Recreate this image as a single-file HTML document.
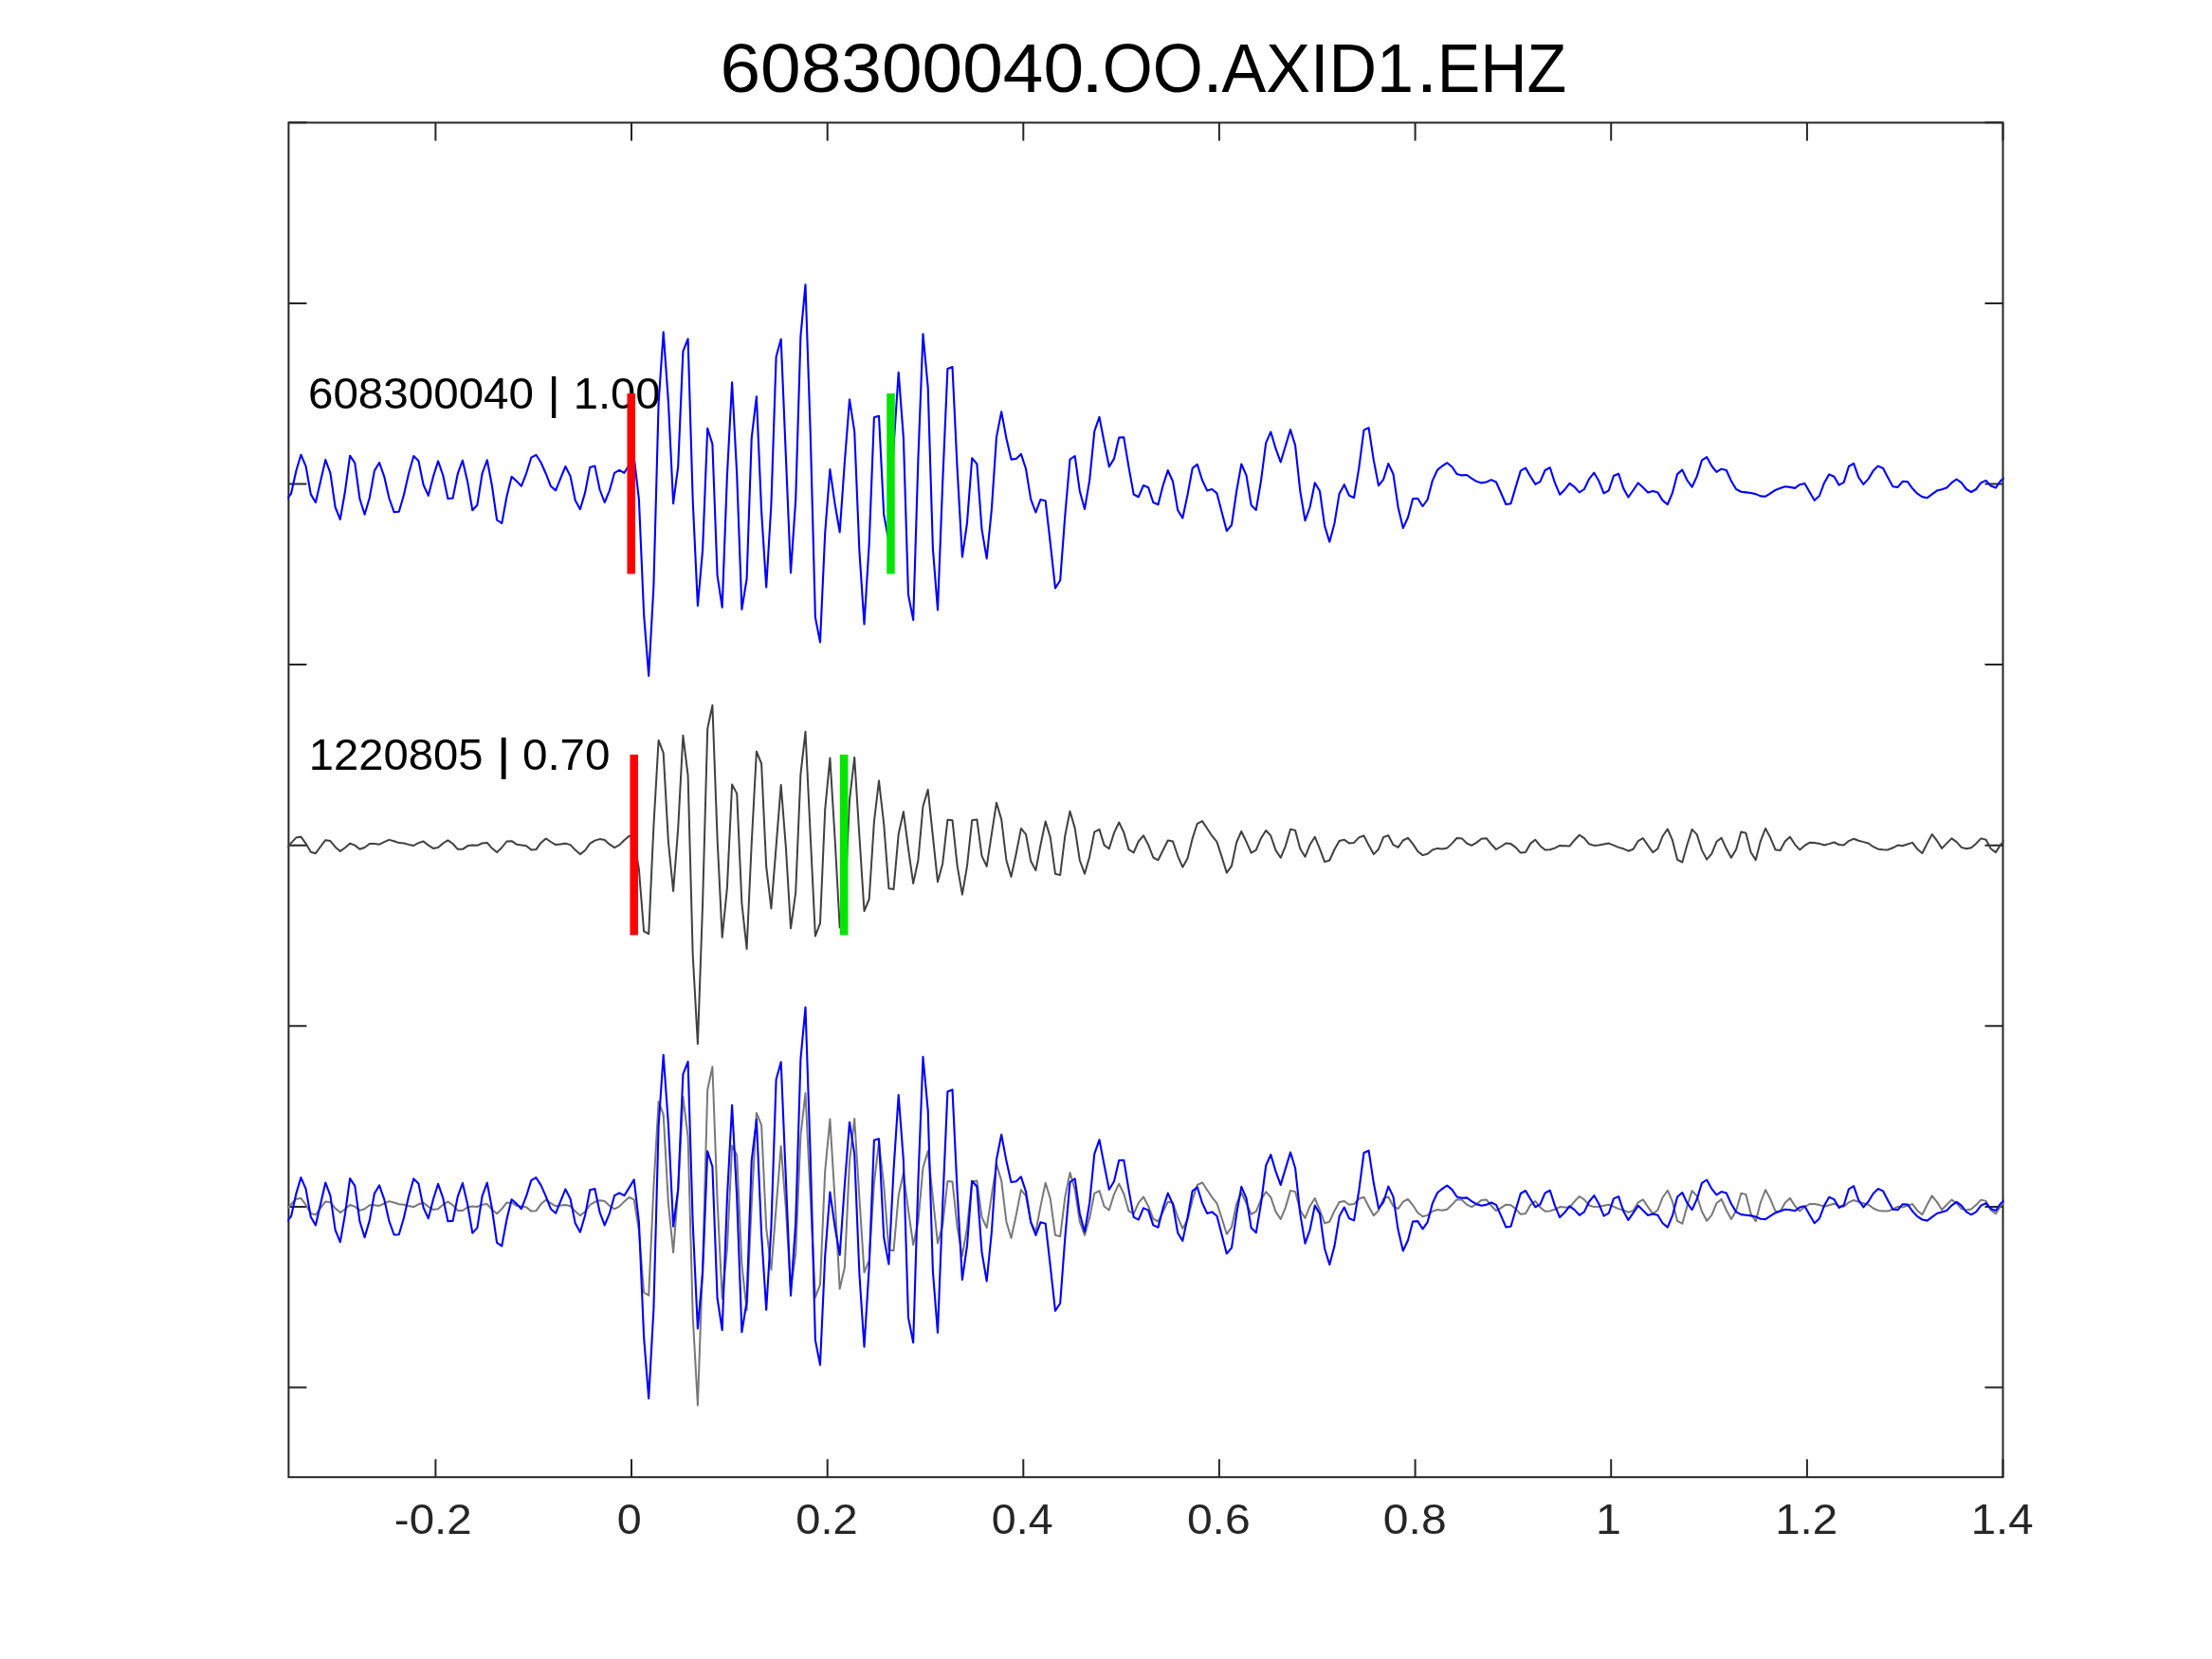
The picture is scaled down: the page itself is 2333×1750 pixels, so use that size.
<!DOCTYPE html>
<html><head><meta charset="utf-8"><title>608300040.OO.AXID1.EHZ</title>
<style>html,body{margin:0;padding:0;background:#fff;}body{width:2333px;height:1750px;overflow:hidden;font-family:"Liberation Sans",sans-serif;}svg{display:block;}text{-webkit-font-smoothing:antialiased;}</style>
</head><body>
<svg width="2333" height="1750" viewBox="0 0 2333 1750" font-family="'Liberation Sans', sans-serif">
<defs><clipPath id="c"><rect x="303.4" y="129.4" width="1810.1" height="1428.8"/></clipPath></defs>
<rect x="0" y="0" width="2333" height="1750" fill="#fff"/>
<g stroke="#262626" stroke-width="2" fill="none">
<rect x="304.4" y="129.4" width="1808.1" height="1428.8"/>
<path d="M459.4,1558.2 V1539.2 M459.4,129.4 V148.4"/>
<path d="M666.0,1558.2 V1539.2 M666.0,129.4 V148.4"/>
<path d="M872.7,1558.2 V1539.2 M872.7,129.4 V148.4"/>
<path d="M1079.3,1558.2 V1539.2 M1079.3,129.4 V148.4"/>
<path d="M1285.9,1558.2 V1539.2 M1285.9,129.4 V148.4"/>
<path d="M1492.6,1558.2 V1539.2 M1492.6,129.4 V148.4"/>
<path d="M1699.2,1558.2 V1539.2 M1699.2,129.4 V148.4"/>
<path d="M1905.9,1558.2 V1539.2 M1905.9,129.4 V148.4"/>
<path d="M2112.5,1558.2 V1539.2 M2112.5,129.4 V148.4"/>
<path d="M304.4,129.3 H323.4 M2112.5,129.3 H2093.5"/>
<path d="M304.4,319.9 H323.4 M2112.5,319.9 H2093.5"/>
<path d="M304.4,510.5 H323.4 M2112.5,510.5 H2093.5"/>
<path d="M304.4,701.1 H323.4 M2112.5,701.1 H2093.5"/>
<path d="M304.4,891.7 H323.4 M2112.5,891.7 H2093.5"/>
<path d="M304.4,1082.3 H323.4 M2112.5,1082.3 H2093.5"/>
<path d="M304.4,1272.9 H323.4 M2112.5,1272.9 H2093.5"/>
<path d="M304.4,1463.5 H323.4 M2112.5,1463.5 H2093.5"/>
</g>
<g style="filter:grayscale(1)">
<text x="324.95" y="431.3" font-size="45.5" fill="#000" textLength="238.07" lengthAdjust="spacingAndGlyphs">608300040</text>
<text x="577.32" y="431.3" font-size="45.5" fill="#000" textLength="13.73" lengthAdjust="spacingAndGlyphs">|</text>
<text x="604.75" y="431.3" font-size="45.5" fill="#000" textLength="91.85" lengthAdjust="spacingAndGlyphs">1.00</text>
<text x="325.87" y="811.8" font-size="45.5" fill="#000" textLength="183.70" lengthAdjust="spacingAndGlyphs">1220805</text>
<text x="523.46" y="811.8" font-size="45.5" fill="#000" textLength="15.38" lengthAdjust="spacingAndGlyphs">|</text>
<text x="550.90" y="811.8" font-size="45.5" fill="#000" textLength="92.73" lengthAdjust="spacingAndGlyphs">0.70</text>
</g>
<g clip-path="url(#c)" fill="none" stroke-linejoin="round" stroke-linecap="butt">
<path d="M302.0,527.2 L307.1,520.5 L312.3,497.0 L317.4,479.7 L322.6,491.8 L327.8,521.4 L332.9,530.0 L338.1,507.6 L343.3,485.1 L348.4,498.8 L353.6,535.0 L358.8,547.8 L363.9,518.7 L369.1,480.7 L374.3,488.4 L379.4,526.0 L384.6,542.7 L389.8,525.0 L394.9,496.6 L400.1,488.0 L405.3,502.9 L410.4,525.5 L415.6,540.1 L420.8,539.8 L425.9,522.3 L431.1,499.3 L436.3,481.0 L441.4,486.0 L446.6,511.5 L451.8,522.8 L456.9,502.9 L462.1,486.4 L467.3,501.5 L472.4,526.0 L477.6,525.5 L482.8,499.7 L487.9,485.7 L493.1,507.9 L498.3,538.2 L503.4,532.7 L508.6,499.3 L513.8,485.3 L518.9,512.4 L524.1,548.5 L529.3,552.0 L534.4,524.1 L539.6,502.9 L544.8,507.4 L549.9,512.8 L555.1,499.3 L560.3,482.7 L565.4,479.8 L570.6,488.0 L575.8,499.7 L580.9,512.8 L586.1,517.4 L591.2,504.7 L596.4,492.0 L601.6,502.4 L606.7,527.8 L611.9,537.2 L617.1,519.6 L622.2,492.9 L627.4,491.6 L632.6,516.5 L637.7,530.0 L642.9,517.4 L648.1,498.8 L653.2,495.9 L658.4,498.8 L663.6,490.5 L668.7,482.0 L673.9,526.6 L679.1,647.8 L684.2,712.9 L689.4,618.0 L694.6,425.6 L699.7,350.4 L704.9,423.6 L710.1,531.2 L715.2,492.1 L720.4,370.7 L725.6,357.5 L730.7,527.8 L735.9,639.0 L741.1,580.0 L746.2,451.8 L751.4,468.4 L756.6,607.1 L761.7,640.6 L766.9,501.6 L772.1,403.2 L777.2,500.2 L782.4,642.8 L787.6,610.5 L792.7,462.2 L797.9,418.4 L803.1,539.3 L808.2,619.4 L813.4,532.5 L818.6,376.5 L823.7,357.8 L828.9,481.9 L834.0,604.2 L839.2,527.1 L844.4,355.1 L849.5,300.2 L854.7,455.3 L859.9,651.2 L865.0,677.4 L870.2,562.4 L875.4,495.1 L880.5,531.2 L885.7,561.3 L890.9,487.3 L896.0,421.3 L901.2,454.8 L906.4,581.4 L911.5,658.4 L916.7,573.9 L921.9,440.3 L927.0,438.8 L932.2,542.7 L937.4,571.1 L942.5,471.8 L947.7,392.7 L952.9,461.6 L958.0,627.5 L963.2,653.9 L968.4,484.6 L973.5,352.4 L978.7,408.7 L983.9,578.7 L989.0,643.4 L994.2,509.0 L999.4,389.0 L1004.5,387.0 L1009.7,495.5 L1014.9,587.5 L1020.0,551.5 L1025.2,483.3 L1030.4,489.4 L1035.5,558.3 L1040.7,589.1 L1045.9,537.1 L1051.0,460.9 L1056.2,434.4 L1061.4,462.2 L1066.5,484.6 L1071.7,483.9 L1076.9,478.9 L1082.0,494.5 L1087.2,526.7 L1092.4,540.5 L1097.5,526.9 L1102.7,528.3 L1107.8,573.2 L1113.0,620.4 L1118.2,612.3 L1123.3,543.9 L1128.5,484.6 L1133.7,481.0 L1138.8,517.9 L1144.0,537.1 L1149.2,506.3 L1154.3,454.8 L1159.5,439.9 L1164.7,467.0 L1169.8,492.4 L1175.0,483.9 L1180.2,461.6 L1185.3,461.3 L1190.5,492.8 L1195.7,521.5 L1200.8,524.2 L1206.0,512.0 L1211.2,514.2 L1216.3,530.0 L1221.5,532.3 L1226.7,511.8 L1231.8,496.2 L1237.0,507.8 L1242.2,538.1 L1247.3,546.5 L1252.5,522.1 L1257.7,493.9 L1262.8,489.9 L1268.0,506.5 L1273.2,517.6 L1278.3,516.0 L1283.5,520.4 L1288.7,540.4 L1293.8,560.0 L1299.0,553.9 L1304.2,518.0 L1309.3,489.5 L1314.5,501.4 L1319.7,532.9 L1324.8,537.9 L1330.0,507.1 L1335.2,467.1 L1340.3,455.6 L1345.5,473.2 L1350.7,487.5 L1355.8,470.5 L1361.0,453.2 L1366.1,469.9 L1371.3,518.0 L1376.5,549.2 L1381.6,535.0 L1386.8,509.2 L1392.0,518.0 L1397.1,554.6 L1402.3,571.6 L1407.5,551.9 L1412.6,520.7 L1417.8,511.2 L1423.0,522.8 L1428.1,525.0 L1433.3,493.6 L1438.5,453.6 L1443.6,451.3 L1448.8,485.4 L1454.0,512.2 L1459.1,505.8 L1464.3,489.1 L1469.5,500.0 L1474.6,535.0 L1479.8,557.1 L1485.0,545.8 L1490.1,526.1 L1495.3,525.7 L1500.5,534.0 L1505.6,527.0 L1510.8,507.1 L1516.0,495.8 L1521.1,491.6 L1526.3,488.2 L1531.5,492.5 L1536.6,500.1 L1541.8,501.4 L1547.0,501.0 L1552.1,504.7 L1557.3,507.8 L1562.5,509.4 L1567.6,508.5 L1572.8,506.1 L1578.0,508.5 L1583.1,520.0 L1588.3,532.0 L1593.5,531.3 L1598.6,513.9 L1603.8,496.6 L1609.0,493.6 L1614.1,502.4 L1619.3,510.8 L1624.4,508.1 L1629.6,496.0 L1634.8,493.3 L1639.9,509.2 L1645.1,521.7 L1650.3,516.6 L1655.4,509.9 L1660.6,513.7 L1665.8,519.4 L1670.9,516.0 L1676.1,505.1 L1681.3,498.7 L1686.4,507.6 L1691.6,520.3 L1696.8,517.3 L1701.9,502.0 L1707.1,499.7 L1712.3,515.3 L1717.4,524.5 L1722.6,517.0 L1727.8,509.4 L1732.9,514.3 L1738.1,519.6 L1743.3,518.0 L1748.4,519.4 L1753.6,527.9 L1758.8,532.2 L1763.9,520.0 L1769.1,500.1 L1774.3,495.6 L1779.4,506.5 L1784.6,513.7 L1789.8,502.4 L1794.9,485.7 L1800.1,482.1 L1805.3,491.5 L1810.4,497.9 L1815.6,494.7 L1820.8,496.0 L1825.9,507.4 L1831.1,516.0 L1836.3,518.7 L1841.4,519.4 L1846.6,520.0 L1851.8,521.1 L1856.9,523.4 L1862.1,523.7 L1867.3,520.3 L1872.4,517.0 L1877.6,515.0 L1882.7,513.2 L1887.9,513.9 L1893.1,514.9 L1898.2,511.2 L1903.4,509.9 L1908.6,519.1 L1913.7,527.8 L1918.9,523.0 L1924.1,509.2 L1929.2,500.4 L1934.4,502.7 L1939.6,511.6 L1944.7,508.9 L1949.9,492.0 L1955.1,488.8 L1960.2,503.4 L1965.4,510.9 L1970.6,505.1 L1975.7,496.6 L1980.9,491.6 L1986.1,494.0 L1991.2,503.8 L1996.4,513.2 L2001.6,513.9 L2006.7,507.8 L2011.9,508.1 L2017.1,515.3 L2022.2,520.7 L2027.4,524.1 L2032.6,525.2 L2037.7,521.4 L2042.9,517.6 L2048.1,516.2 L2053.2,514.6 L2058.4,509.2 L2063.6,505.5 L2068.7,509.2 L2073.9,516.0 L2079.1,519.0 L2084.2,516.0 L2089.4,509.2 L2094.6,506.9 L2099.7,512.6 L2104.9,514.6 L2110.1,507.1 L2115.2,503.1" stroke="#0000ff" stroke-width="2.1"/>
<path d="M302.0,894.9 L307.1,889.1 L312.3,883.6 L317.4,882.7 L322.6,889.8 L327.8,898.8 L332.9,900.2 L338.1,893.0 L343.3,886.2 L348.4,887.1 L353.6,893.4 L358.8,897.9 L363.9,894.3 L369.1,889.8 L374.3,891.6 L379.4,895.7 L384.6,894.0 L389.8,890.0 L394.9,890.0 L400.1,890.7 L405.3,888.2 L410.4,885.9 L415.6,887.2 L420.8,889.1 L425.9,889.5 L431.1,890.9 L436.3,892.0 L441.4,889.1 L446.6,887.5 L451.8,891.6 L456.9,894.9 L462.1,894.0 L467.3,889.5 L472.4,886.4 L477.6,890.0 L482.8,895.8 L487.9,895.8 L493.1,892.3 L498.3,891.4 L503.4,891.8 L508.6,889.5 L513.8,888.9 L518.9,894.8 L524.1,899.1 L529.3,894.0 L534.4,887.5 L539.6,887.2 L544.8,890.7 L549.9,891.4 L555.1,892.2 L560.3,896.4 L565.4,896.1 L570.6,888.9 L575.8,884.5 L580.9,888.0 L586.1,891.1 L591.2,890.4 L596.4,889.8 L601.6,891.1 L606.7,896.6 L611.9,901.1 L617.1,897.0 L622.2,889.8 L627.4,886.6 L632.6,885.1 L637.7,885.9 L642.9,890.7 L648.1,894.1 L653.2,891.4 L658.4,886.2 L663.6,881.8 L668.7,884.2 L673.9,917.0 L679.1,982.3 L684.2,985.2 L689.4,871.1 L694.6,780.9 L699.7,794.4 L704.9,888.0 L710.1,940.0 L715.2,873.8 L720.4,775.8 L725.6,818.2 L730.7,1007.1 L735.9,1101.1 L741.1,953.0 L746.2,768.6 L751.4,744.0 L756.6,885.0 L761.7,988.8 L766.9,936.4 L772.1,827.4 L777.2,837.1 L782.4,953.0 L787.6,1001.0 L792.7,890.0 L797.9,792.7 L803.1,805.5 L808.2,914.2 L813.4,958.3 L818.6,892.8 L823.7,827.9 L828.9,894.1 L834.0,979.3 L839.2,941.3 L844.4,816.8 L849.5,771.8 L854.7,880.0 L859.9,987.5 L865.0,973.9 L870.2,854.1 L875.4,799.4 L880.5,883.0 L885.7,978.4 L890.9,955.6 L896.0,843.9 L901.2,798.9 L906.4,882.0 L911.5,961.0 L916.7,948.5 L921.9,867.0 L927.0,823.6 L932.2,869.0 L937.4,937.2 L942.5,938.1 L947.7,879.8 L952.9,856.2 L958.0,895.3 L963.2,931.9 L968.4,907.5 L973.5,850.5 L978.7,832.9 L983.9,882.4 L989.0,930.3 L994.2,910.9 L999.4,864.8 L1004.5,865.2 L1009.7,913.6 L1014.9,943.7 L1020.0,913.6 L1025.2,865.2 L1030.4,864.4 L1035.5,902.8 L1040.7,913.9 L1045.9,879.7 L1051.0,846.7 L1056.2,864.4 L1061.4,907.5 L1066.5,924.9 L1071.7,900.7 L1076.9,873.9 L1082.0,880.1 L1087.2,908.2 L1092.4,918.1 L1097.5,891.2 L1102.7,866.5 L1107.8,883.4 L1113.0,921.7 L1118.2,923.1 L1123.3,881.7 L1128.5,855.7 L1133.7,873.6 L1138.8,907.5 L1144.0,921.7 L1149.2,903.4 L1154.3,877.6 L1159.5,874.9 L1164.7,891.6 L1169.8,895.3 L1175.0,878.6 L1180.2,867.5 L1185.3,878.1 L1190.5,896.2 L1195.7,899.4 L1200.8,887.5 L1206.0,881.3 L1211.2,891.2 L1216.3,904.5 L1221.5,907.3 L1226.7,896.8 L1231.8,886.5 L1237.0,887.5 L1242.2,902.8 L1247.3,914.7 L1252.5,905.5 L1257.7,884.4 L1262.8,868.8 L1268.0,866.1 L1273.2,874.0 L1278.3,881.7 L1283.5,888.1 L1288.7,904.1 L1293.8,920.6 L1299.0,913.3 L1304.2,888.5 L1309.3,877.0 L1314.5,887.8 L1319.7,899.6 L1324.8,896.6 L1330.0,884.2 L1335.2,876.0 L1340.3,881.7 L1345.5,896.9 L1350.7,904.8 L1355.8,892.6 L1361.0,874.7 L1366.1,875.9 L1371.3,895.3 L1376.5,903.8 L1381.6,891.0 L1386.8,882.8 L1392.0,895.3 L1397.1,909.1 L1402.3,907.5 L1407.5,896.0 L1412.6,886.9 L1417.8,885.8 L1423.0,889.6 L1428.1,888.9 L1433.3,883.4 L1438.5,881.5 L1443.6,891.6 L1448.8,901.1 L1454.0,895.7 L1459.1,883.1 L1464.3,881.3 L1469.5,891.2 L1474.6,893.9 L1479.8,886.5 L1485.0,883.8 L1490.1,890.1 L1495.3,898.0 L1500.5,902.1 L1505.6,900.7 L1510.8,896.5 L1516.0,894.9 L1521.1,895.6 L1526.3,894.6 L1531.5,889.6 L1536.6,884.0 L1541.8,884.4 L1547.0,889.5 L1552.1,891.9 L1557.3,888.9 L1562.5,884.8 L1567.6,884.2 L1572.8,890.5 L1578.0,896.0 L1583.1,893.0 L1588.3,889.5 L1593.5,890.1 L1598.6,893.9 L1603.8,899.6 L1609.0,899.0 L1614.1,889.9 L1619.3,885.8 L1624.4,892.2 L1629.6,896.6 L1634.8,896.2 L1639.9,894.6 L1645.1,891.9 L1650.3,892.3 L1655.4,892.6 L1660.6,886.2 L1665.8,880.8 L1670.9,884.2 L1676.1,890.3 L1681.3,891.9 L1686.4,891.5 L1691.6,890.5 L1696.8,889.6 L1701.9,891.6 L1707.1,893.9 L1712.3,895.3 L1717.4,897.7 L1722.6,895.7 L1727.8,887.1 L1732.9,884.2 L1738.1,891.9 L1743.3,899.1 L1748.4,895.3 L1753.6,882.0 L1758.8,874.5 L1763.9,886.2 L1769.1,906.8 L1774.3,909.5 L1779.4,891.2 L1784.6,874.9 L1789.8,880.4 L1794.9,896.6 L1800.1,906.6 L1805.3,900.7 L1810.4,888.1 L1815.6,883.8 L1820.8,895.3 L1825.9,904.8 L1831.1,896.0 L1836.3,877.6 L1841.4,878.7 L1846.6,899.0 L1851.8,907.1 L1856.9,887.1 L1862.1,873.9 L1867.3,883.8 L1872.4,896.2 L1877.6,896.9 L1882.7,887.5 L1887.9,882.7 L1893.1,890.8 L1898.2,896.4 L1903.4,891.9 L1908.6,888.8 L1913.7,888.9 L1918.9,889.9 L1924.1,891.5 L1929.2,890.1 L1934.4,888.5 L1939.6,891.0 L1944.7,891.6 L1949.9,887.1 L1955.1,884.8 L1960.2,886.7 L1965.4,888.1 L1970.6,889.5 L1975.7,893.2 L1980.9,895.7 L1986.1,896.2 L1991.2,896.4 L1996.4,894.3 L2001.6,891.6 L2006.7,892.2 L2011.9,890.5 L2017.1,888.9 L2022.2,895.7 L2027.4,900.0 L2032.6,889.6 L2037.7,880.1 L2042.9,886.7 L2048.1,894.9 L2053.2,889.6 L2058.4,884.4 L2063.6,888.1 L2068.7,893.9 L2073.9,895.3 L2079.1,894.3 L2084.2,889.9 L2089.4,884.4 L2094.6,885.7 L2099.7,895.2 L2104.9,899.1 L2110.1,890.9 L2115.2,886.0" stroke="#404040" stroke-width="2.0"/>
<path d="M302.0,1276.1 L307.1,1270.3 L312.3,1264.8 L317.4,1263.9 L322.6,1271.0 L327.8,1280.0 L332.9,1281.4 L338.1,1274.2 L343.3,1267.4 L348.4,1268.3 L353.6,1274.6 L358.8,1279.1 L363.9,1275.5 L369.1,1271.0 L374.3,1272.8 L379.4,1276.9 L384.6,1275.2 L389.8,1271.2 L394.9,1271.2 L400.1,1271.9 L405.3,1269.5 L410.4,1267.1 L415.6,1268.5 L420.8,1270.3 L425.9,1270.7 L431.1,1272.1 L436.3,1273.2 L441.4,1270.3 L446.6,1268.7 L451.8,1272.8 L456.9,1276.1 L462.1,1275.2 L467.3,1270.7 L472.4,1267.6 L477.6,1271.2 L482.8,1277.0 L487.9,1277.0 L493.1,1273.5 L498.3,1272.6 L503.4,1273.0 L508.6,1270.7 L513.8,1270.1 L518.9,1276.0 L524.1,1280.3 L529.3,1275.2 L534.4,1268.7 L539.6,1268.5 L544.8,1271.9 L549.9,1272.6 L555.1,1273.4 L560.3,1277.6 L565.4,1277.3 L570.6,1270.1 L575.8,1265.7 L580.9,1269.2 L586.1,1272.3 L591.2,1271.6 L596.4,1271.0 L601.6,1272.3 L606.7,1277.8 L611.9,1282.3 L617.1,1278.2 L622.2,1271.0 L627.4,1267.8 L632.6,1266.3 L637.7,1267.1 L642.9,1271.9 L648.1,1275.3 L653.2,1272.6 L658.4,1267.4 L663.6,1263.0 L668.7,1265.4 L673.9,1298.2 L679.1,1363.5 L684.2,1366.4 L689.4,1252.3 L694.6,1162.1 L699.7,1175.6 L704.9,1269.2 L710.1,1321.2 L715.2,1255.0 L720.4,1157.0 L725.6,1199.4 L730.7,1388.3 L735.9,1482.3 L741.1,1334.2 L746.2,1149.8 L751.4,1125.2 L756.6,1266.2 L761.7,1370.0 L766.9,1317.6 L772.1,1208.6 L777.2,1218.3 L782.4,1334.2 L787.6,1382.2 L792.7,1271.2 L797.9,1173.9 L803.1,1186.8 L808.2,1295.4 L813.4,1339.5 L818.6,1274.0 L823.7,1209.1 L828.9,1275.3 L834.0,1360.5 L839.2,1322.5 L844.4,1198.0 L849.5,1153.0 L854.7,1261.2 L859.9,1368.7 L865.0,1355.1 L870.2,1235.3 L875.4,1180.6 L880.5,1264.2 L885.7,1359.6 L890.9,1336.8 L896.0,1225.1 L901.2,1180.1 L906.4,1263.2 L911.5,1342.2 L916.7,1329.7 L921.9,1248.2 L927.0,1204.8 L932.2,1250.2 L937.4,1318.4 L942.5,1319.3 L947.7,1261.0 L952.9,1237.4 L958.0,1276.5 L963.2,1313.1 L968.4,1288.7 L973.5,1231.7 L978.7,1214.1 L983.9,1263.6 L989.0,1311.5 L994.2,1292.1 L999.4,1246.0 L1004.5,1246.4 L1009.7,1294.8 L1014.9,1324.9 L1020.0,1294.8 L1025.2,1246.4 L1030.4,1245.6 L1035.5,1284.0 L1040.7,1295.1 L1045.9,1260.9 L1051.0,1227.9 L1056.2,1245.6 L1061.4,1288.7 L1066.5,1306.0 L1071.7,1281.9 L1076.9,1255.1 L1082.0,1261.3 L1087.2,1289.4 L1092.4,1299.3 L1097.5,1272.4 L1102.7,1247.7 L1107.8,1264.5 L1113.0,1302.9 L1118.2,1304.3 L1123.3,1262.9 L1128.5,1236.9 L1133.7,1254.8 L1138.8,1288.7 L1144.0,1302.9 L1149.2,1284.6 L1154.3,1258.8 L1159.5,1256.1 L1164.7,1272.8 L1169.8,1276.5 L1175.0,1259.8 L1180.2,1248.7 L1185.3,1259.3 L1190.5,1277.4 L1195.7,1280.5 L1200.8,1268.8 L1206.0,1262.5 L1211.2,1272.4 L1216.3,1285.7 L1221.5,1288.5 L1226.7,1278.0 L1231.8,1267.7 L1237.0,1268.8 L1242.2,1284.0 L1247.3,1295.9 L1252.5,1286.7 L1257.7,1265.6 L1262.8,1250.0 L1268.0,1247.3 L1273.2,1255.2 L1278.3,1262.9 L1283.5,1269.3 L1288.7,1285.3 L1293.8,1301.8 L1299.0,1294.5 L1304.2,1269.7 L1309.3,1258.2 L1314.5,1269.0 L1319.7,1280.8 L1324.8,1277.8 L1330.0,1265.4 L1335.2,1257.2 L1340.3,1262.9 L1345.5,1278.1 L1350.7,1286.0 L1355.8,1273.8 L1361.0,1255.9 L1366.1,1257.1 L1371.3,1276.5 L1376.5,1285.0 L1381.6,1272.2 L1386.8,1264.0 L1392.0,1276.5 L1397.1,1290.3 L1402.3,1288.7 L1407.5,1277.2 L1412.6,1268.1 L1417.8,1267.0 L1423.0,1270.8 L1428.1,1270.1 L1433.3,1264.5 L1438.5,1262.7 L1443.6,1272.8 L1448.8,1282.3 L1454.0,1276.9 L1459.1,1264.3 L1464.3,1262.5 L1469.5,1272.4 L1474.6,1275.1 L1479.8,1267.7 L1485.0,1265.0 L1490.1,1271.3 L1495.3,1279.2 L1500.5,1283.3 L1505.6,1281.9 L1510.8,1277.7 L1516.0,1276.1 L1521.1,1276.8 L1526.3,1275.8 L1531.5,1270.8 L1536.6,1265.2 L1541.8,1265.6 L1547.0,1270.7 L1552.1,1273.1 L1557.3,1270.1 L1562.5,1266.0 L1567.6,1265.4 L1572.8,1271.7 L1578.0,1277.2 L1583.1,1274.2 L1588.3,1270.7 L1593.5,1271.3 L1598.6,1275.1 L1603.8,1280.8 L1609.0,1280.2 L1614.1,1271.1 L1619.3,1267.0 L1624.4,1273.4 L1629.6,1277.8 L1634.8,1277.4 L1639.9,1275.8 L1645.1,1273.1 L1650.3,1273.5 L1655.4,1273.8 L1660.6,1267.4 L1665.8,1262.0 L1670.9,1265.4 L1676.1,1271.5 L1681.3,1273.1 L1686.4,1272.7 L1691.6,1271.7 L1696.8,1270.8 L1701.9,1272.8 L1707.1,1275.1 L1712.3,1276.5 L1717.4,1278.9 L1722.6,1276.9 L1727.8,1268.3 L1732.9,1265.4 L1738.1,1273.1 L1743.3,1280.3 L1748.4,1276.5 L1753.6,1263.2 L1758.8,1255.7 L1763.9,1267.4 L1769.1,1288.0 L1774.3,1290.7 L1779.4,1272.4 L1784.6,1256.1 L1789.8,1261.6 L1794.9,1277.8 L1800.1,1287.8 L1805.3,1281.9 L1810.4,1269.3 L1815.6,1265.0 L1820.8,1276.5 L1825.9,1286.0 L1831.1,1277.2 L1836.3,1258.8 L1841.4,1259.9 L1846.6,1280.2 L1851.8,1288.3 L1856.9,1268.3 L1862.1,1255.1 L1867.3,1265.0 L1872.4,1277.4 L1877.6,1278.1 L1882.7,1268.8 L1887.9,1263.9 L1893.1,1272.0 L1898.2,1277.6 L1903.4,1273.1 L1908.6,1270.0 L1913.7,1270.1 L1918.9,1271.1 L1924.1,1272.7 L1929.2,1271.3 L1934.4,1269.7 L1939.6,1272.2 L1944.7,1272.8 L1949.9,1268.3 L1955.1,1266.0 L1960.2,1267.9 L1965.4,1269.3 L1970.6,1270.7 L1975.7,1274.5 L1980.9,1276.9 L1986.1,1277.4 L1991.2,1277.6 L1996.4,1275.5 L2001.6,1272.8 L2006.7,1273.4 L2011.9,1271.7 L2017.1,1270.1 L2022.2,1276.9 L2027.4,1281.2 L2032.6,1270.8 L2037.7,1261.3 L2042.9,1267.9 L2048.1,1276.1 L2053.2,1270.8 L2058.4,1265.6 L2063.6,1269.3 L2068.7,1275.1 L2073.9,1276.5 L2079.1,1275.5 L2084.2,1271.1 L2089.4,1265.6 L2094.6,1266.9 L2099.7,1276.4 L2104.9,1280.3 L2110.1,1272.1 L2115.2,1267.2" stroke="#787878" stroke-width="2.0"/>
<path d="M302.0,1289.6 L307.1,1282.9 L312.3,1259.4 L317.4,1242.1 L322.6,1254.2 L327.8,1283.8 L332.9,1292.4 L338.1,1270.0 L343.3,1247.5 L348.4,1261.2 L353.6,1297.4 L358.8,1310.2 L363.9,1281.1 L369.1,1243.1 L374.3,1250.8 L379.4,1288.3 L384.6,1305.1 L389.8,1287.4 L394.9,1259.0 L400.1,1250.4 L405.3,1265.3 L410.4,1287.9 L415.6,1302.5 L420.8,1302.2 L425.9,1284.7 L431.1,1261.7 L436.3,1243.4 L441.4,1248.4 L446.6,1273.9 L451.8,1285.2 L456.9,1265.3 L462.1,1248.8 L467.3,1263.9 L472.4,1288.3 L477.6,1287.9 L482.8,1262.1 L487.9,1248.1 L493.1,1270.3 L498.3,1300.6 L503.4,1295.1 L508.6,1261.7 L513.8,1247.7 L518.9,1274.8 L524.1,1310.9 L529.3,1314.4 L534.4,1286.5 L539.6,1265.3 L544.8,1269.8 L549.9,1275.2 L555.1,1261.7 L560.3,1245.1 L565.4,1242.2 L570.6,1250.4 L575.8,1262.1 L580.9,1275.2 L586.1,1279.8 L591.2,1267.1 L596.4,1254.4 L601.6,1264.8 L606.7,1290.2 L611.9,1299.7 L617.1,1282.0 L622.2,1255.3 L627.4,1254.0 L632.6,1278.9 L637.7,1292.4 L642.9,1279.8 L648.1,1261.2 L653.2,1258.3 L658.4,1261.2 L663.6,1252.9 L668.7,1244.4 L673.9,1289.0 L679.1,1410.2 L684.2,1475.3 L689.4,1380.4 L694.6,1188.0 L699.7,1112.8 L704.9,1186.0 L710.1,1293.6 L715.2,1254.5 L720.4,1133.1 L725.6,1119.9 L730.7,1290.2 L735.9,1401.4 L741.1,1342.4 L746.2,1214.2 L751.4,1230.8 L756.6,1369.5 L761.7,1403.0 L766.9,1264.0 L772.1,1165.7 L777.2,1262.6 L782.4,1405.2 L787.6,1372.9 L792.7,1224.7 L797.9,1180.8 L803.1,1301.7 L808.2,1381.8 L813.4,1294.9 L818.6,1138.9 L823.7,1120.2 L828.9,1244.3 L834.0,1366.6 L839.2,1289.5 L844.4,1117.5 L849.5,1062.6 L854.7,1217.7 L859.9,1413.6 L865.0,1439.8 L870.2,1324.8 L875.4,1257.5 L880.5,1293.6 L885.7,1323.7 L890.9,1249.7 L896.0,1183.7 L901.2,1217.2 L906.4,1343.8 L911.5,1420.8 L916.7,1336.3 L921.9,1202.7 L927.0,1201.2 L932.2,1305.1 L937.4,1333.5 L942.5,1234.2 L947.7,1155.1 L952.9,1224.0 L958.0,1389.9 L963.2,1416.3 L968.4,1247.0 L973.5,1114.8 L978.7,1171.1 L983.9,1341.1 L989.0,1405.8 L994.2,1271.4 L999.4,1151.4 L1004.5,1149.4 L1009.7,1257.9 L1014.9,1349.9 L1020.0,1313.9 L1025.2,1245.7 L1030.4,1251.8 L1035.5,1320.7 L1040.7,1351.5 L1045.9,1299.5 L1051.0,1223.3 L1056.2,1196.8 L1061.4,1224.6 L1066.5,1247.0 L1071.7,1246.3 L1076.9,1241.3 L1082.0,1256.9 L1087.2,1289.1 L1092.4,1302.9 L1097.5,1289.3 L1102.7,1290.7 L1107.8,1335.6 L1113.0,1382.8 L1118.2,1374.7 L1123.3,1306.2 L1128.5,1247.0 L1133.7,1243.4 L1138.8,1280.2 L1144.0,1299.5 L1149.2,1268.7 L1154.3,1217.2 L1159.5,1202.3 L1164.7,1229.4 L1169.8,1254.8 L1175.0,1246.3 L1180.2,1224.0 L1185.3,1223.7 L1190.5,1255.2 L1195.7,1283.9 L1200.8,1286.6 L1206.0,1274.4 L1211.2,1276.6 L1216.3,1292.4 L1221.5,1294.7 L1226.7,1274.2 L1231.8,1258.6 L1237.0,1270.2 L1242.2,1300.5 L1247.3,1308.9 L1252.5,1284.5 L1257.7,1256.3 L1262.8,1252.3 L1268.0,1268.9 L1273.2,1280.0 L1278.3,1278.4 L1283.5,1282.8 L1288.7,1302.8 L1293.8,1322.4 L1299.0,1316.3 L1304.2,1280.4 L1309.3,1251.9 L1314.5,1263.8 L1319.7,1295.3 L1324.8,1300.3 L1330.0,1269.5 L1335.2,1229.5 L1340.3,1218.0 L1345.5,1235.6 L1350.7,1249.9 L1355.8,1232.9 L1361.0,1215.6 L1366.1,1232.2 L1371.3,1280.4 L1376.5,1311.6 L1381.6,1297.3 L1386.8,1271.6 L1392.0,1280.4 L1397.1,1317.0 L1402.3,1334.0 L1407.5,1314.3 L1412.6,1283.1 L1417.8,1273.6 L1423.0,1285.2 L1428.1,1287.4 L1433.3,1256.0 L1438.5,1216.0 L1443.6,1213.7 L1448.8,1247.8 L1454.0,1274.6 L1459.1,1268.2 L1464.3,1251.5 L1469.5,1262.4 L1474.6,1297.3 L1479.8,1319.5 L1485.0,1308.2 L1490.1,1288.5 L1495.3,1288.1 L1500.5,1296.4 L1505.6,1289.3 L1510.8,1269.5 L1516.0,1258.2 L1521.1,1254.0 L1526.3,1250.6 L1531.5,1254.9 L1536.6,1262.5 L1541.8,1263.8 L1547.0,1263.4 L1552.1,1267.1 L1557.3,1270.2 L1562.5,1271.8 L1567.6,1270.9 L1572.8,1268.5 L1578.0,1270.9 L1583.1,1282.4 L1588.3,1294.4 L1593.5,1293.7 L1598.6,1276.3 L1603.8,1259.0 L1609.0,1256.0 L1614.1,1264.8 L1619.3,1273.2 L1624.4,1270.5 L1629.6,1258.4 L1634.8,1255.7 L1639.9,1271.6 L1645.1,1284.1 L1650.3,1279.0 L1655.4,1272.3 L1660.6,1276.1 L1665.8,1281.8 L1670.9,1278.4 L1676.1,1267.5 L1681.3,1261.1 L1686.4,1270.0 L1691.6,1282.7 L1696.8,1279.7 L1701.9,1264.4 L1707.1,1262.1 L1712.3,1277.7 L1717.4,1286.9 L1722.6,1279.4 L1727.8,1271.8 L1732.9,1276.7 L1738.1,1282.0 L1743.3,1280.4 L1748.4,1281.8 L1753.6,1290.3 L1758.8,1294.6 L1763.9,1282.4 L1769.1,1262.5 L1774.3,1258.0 L1779.4,1268.9 L1784.6,1276.1 L1789.8,1264.8 L1794.9,1248.1 L1800.1,1244.5 L1805.3,1253.9 L1810.4,1260.3 L1815.6,1257.1 L1820.8,1258.4 L1825.9,1269.8 L1831.1,1278.4 L1836.3,1281.1 L1841.4,1281.8 L1846.6,1282.4 L1851.8,1283.5 L1856.9,1285.8 L1862.1,1286.1 L1867.3,1282.7 L1872.4,1279.4 L1877.6,1277.4 L1882.7,1275.7 L1887.9,1276.3 L1893.1,1277.3 L1898.2,1273.6 L1903.4,1272.3 L1908.6,1281.5 L1913.7,1290.2 L1918.9,1285.4 L1924.1,1271.6 L1929.2,1262.8 L1934.4,1265.1 L1939.6,1274.0 L1944.7,1271.3 L1949.9,1254.4 L1955.1,1251.2 L1960.2,1265.8 L1965.4,1273.3 L1970.6,1267.5 L1975.7,1259.0 L1980.9,1254.0 L1986.1,1256.4 L1991.2,1266.2 L1996.4,1275.7 L2001.6,1276.3 L2006.7,1270.2 L2011.9,1270.5 L2017.1,1277.7 L2022.2,1283.1 L2027.4,1286.5 L2032.6,1287.6 L2037.7,1283.8 L2042.9,1280.0 L2048.1,1278.6 L2053.2,1277.0 L2058.4,1271.6 L2063.6,1267.9 L2068.7,1271.6 L2073.9,1278.4 L2079.1,1281.3 L2084.2,1278.4 L2089.4,1271.6 L2094.6,1269.3 L2099.7,1275.0 L2104.9,1277.0 L2110.1,1269.5 L2115.2,1265.5" stroke="#0000ff" stroke-width="2.1"/>
</g>
<rect x="661.45" y="415.00" width="8.5" height="190.4" fill="#ff0000"/>
<rect x="935.25" y="415.00" width="8.5" height="190.4" fill="#00e600"/>
<rect x="664.45" y="796.00" width="8.5" height="190.4" fill="#ff0000"/>
<rect x="885.95" y="796.00" width="8.5" height="190.4" fill="#00e600"/>
<g style="filter:grayscale(1)"><text x="759.42" y="96.5" font-size="73" fill="#000" textLength="383.64" lengthAdjust="spacingAndGlyphs">608300040</text><text x="1139.20" y="96.5" font-size="73" fill="#000" textLength="25.60" lengthAdjust="spacingAndGlyphs">.</text><text x="1162.81" y="96.5" font-size="73" fill="#000" textLength="105.92" lengthAdjust="spacingAndGlyphs">OO</text><text x="1268.37" y="96.5" font-size="73" fill="#000" textLength="21.64" lengthAdjust="spacingAndGlyphs">.</text><text x="1288.48" y="96.5" font-size="73" fill="#000" textLength="202.57" lengthAdjust="spacingAndGlyphs">AXID1</text><text x="1493.41" y="96.5" font-size="73" fill="#000" textLength="22.89" lengthAdjust="spacingAndGlyphs">.</text><text x="1515.70" y="96.5" font-size="73" fill="#000" textLength="136.40" lengthAdjust="spacingAndGlyphs">EHZ</text><text x="415.87" y="1617.7" font-size="44.5" fill="#262626" textLength="81.77" lengthAdjust="spacingAndGlyphs">-0.2</text><text x="650.82" y="1617.7" font-size="44.5" fill="#262626" textLength="25.90" lengthAdjust="spacingAndGlyphs">0</text><text x="839.34" y="1617.7" font-size="44.5" fill="#262626" textLength="65.31" lengthAdjust="spacingAndGlyphs">0.2</text><text x="1045.89" y="1617.7" font-size="44.5" fill="#262626" textLength="64.69" lengthAdjust="spacingAndGlyphs">0.4</text><text x="1251.91" y="1617.7" font-size="44.5" fill="#262626" textLength="66.76" lengthAdjust="spacingAndGlyphs">0.6</text><text x="1458.86" y="1617.7" font-size="44.5" fill="#262626" textLength="66.75" lengthAdjust="spacingAndGlyphs">0.8</text><text x="1683.07" y="1617.7" font-size="44.5" fill="#262626" textLength="26.91" lengthAdjust="spacingAndGlyphs">1</text><text x="1872.16" y="1617.7" font-size="44.5" fill="#262626" textLength="66.01" lengthAdjust="spacingAndGlyphs">1.2</text><text x="2078.70" y="1617.7" font-size="44.5" fill="#262626" textLength="65.91" lengthAdjust="spacingAndGlyphs">1.4</text></g>
</svg>
</body></html>
